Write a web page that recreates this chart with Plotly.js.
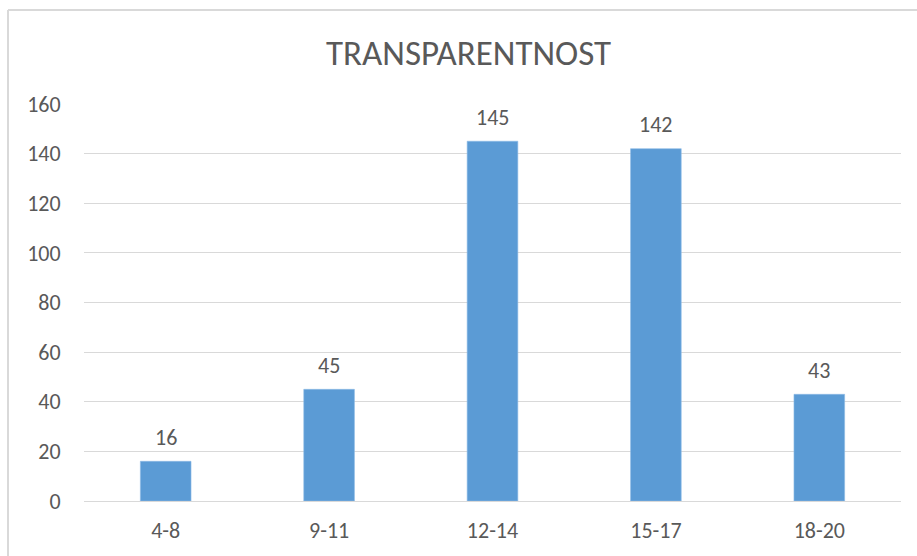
<!DOCTYPE html>
<html>
<head>
<meta charset="utf-8">
<script src="https://cdn.plot.ly/plotly-3.0.1.min.js"></script>
<style>html,body{margin:0;padding:0;background:#fff;}#chart{width:917px;height:556px;}</style>
</head>
<body>
<div id="chart"></div>
<script>
var chartTitle = "TRANSPARENTNOST";
var categories = ["4-8", "9-11", "12-14", "15-17", "18-20"];
var values = [16, 45, 145, 142, 43];
var yTicks = [0, 20, 40, 60, 80, 100, 120, 140, 160];

var FONT = "Carlito, 'Open Sans', 'Liberation Sans', sans-serif";
var TXT = "#595959";

var trace = {
  type: "bar",
  x: categories,
  y: values,
  marker: {color: "#5B9BD5", line: {color: "#8dbbe6", width: 0.6}},
  hoverinfo: "x+y"
};

var annotations = categories.map(function (c, i) {
  return {
    x: c, y: values[i], xref: "x", yref: "y",
    text: String(values[i]), showarrow: false,
    yanchor: "middle", yshift: 24,
    font: {family: FONT, size: 22, color: TXT}
  };
});

var layout = {
  width: 917, height: 556,
  margin: {l: 84, r: 16, t: 104, b: 55},
  paper_bgcolor: "#fff", plot_bgcolor: "#fff",
  showlegend: false,
  bargap: 0.69,
  title: {
    text: chartTitle, xref: "container", x: 0.511, xanchor: "center",
    yref: "container", y: 0.906, yanchor: "middle",
    font: {family: FONT, size: 35, color: TXT}
  },
  xaxis: {
    type: "category",
    showgrid: false, zeroline: false, showline: false,
    ticks: "outside", ticklen: 10, tickcolor: "rgba(0,0,0,0)",
    tickfont: {family: FONT, size: 22, color: TXT}
  },
  yaxis: {
    range: [0, 160], tickvals: yTicks, ticktext: yTicks.map(String),
    showgrid: true, gridcolor: "#d9d9d9", gridwidth: 1,
    zeroline: true, zerolinecolor: "#d9d9d9", zerolinewidth: 1,
    showline: false,
    ticks: "outside", ticklen: 18, tickcolor: "rgba(0,0,0,0)",
    tickfont: {family: FONT, size: 22, color: TXT}
  },
  annotations: annotations,
  shapes: [
    {type: "line", xref: "paper", yref: "paper", x0: -0.0930, x1: -0.0930, y0: 1.2368, y1: -0.14,
     line: {color: "#d9d9d9", width: 2}},
    {type: "line", xref: "paper", yref: "paper", x0: -0.0930, x1: 1.03, y0: 1.2368, y1: 1.2368,
     line: {color: "#d9d9d9", width: 2}}
  ]
};

Plotly.newPlot("chart", [trace], layout, {displayModeBar: false, staticPlot: true});
</script>
</body>
</html>
